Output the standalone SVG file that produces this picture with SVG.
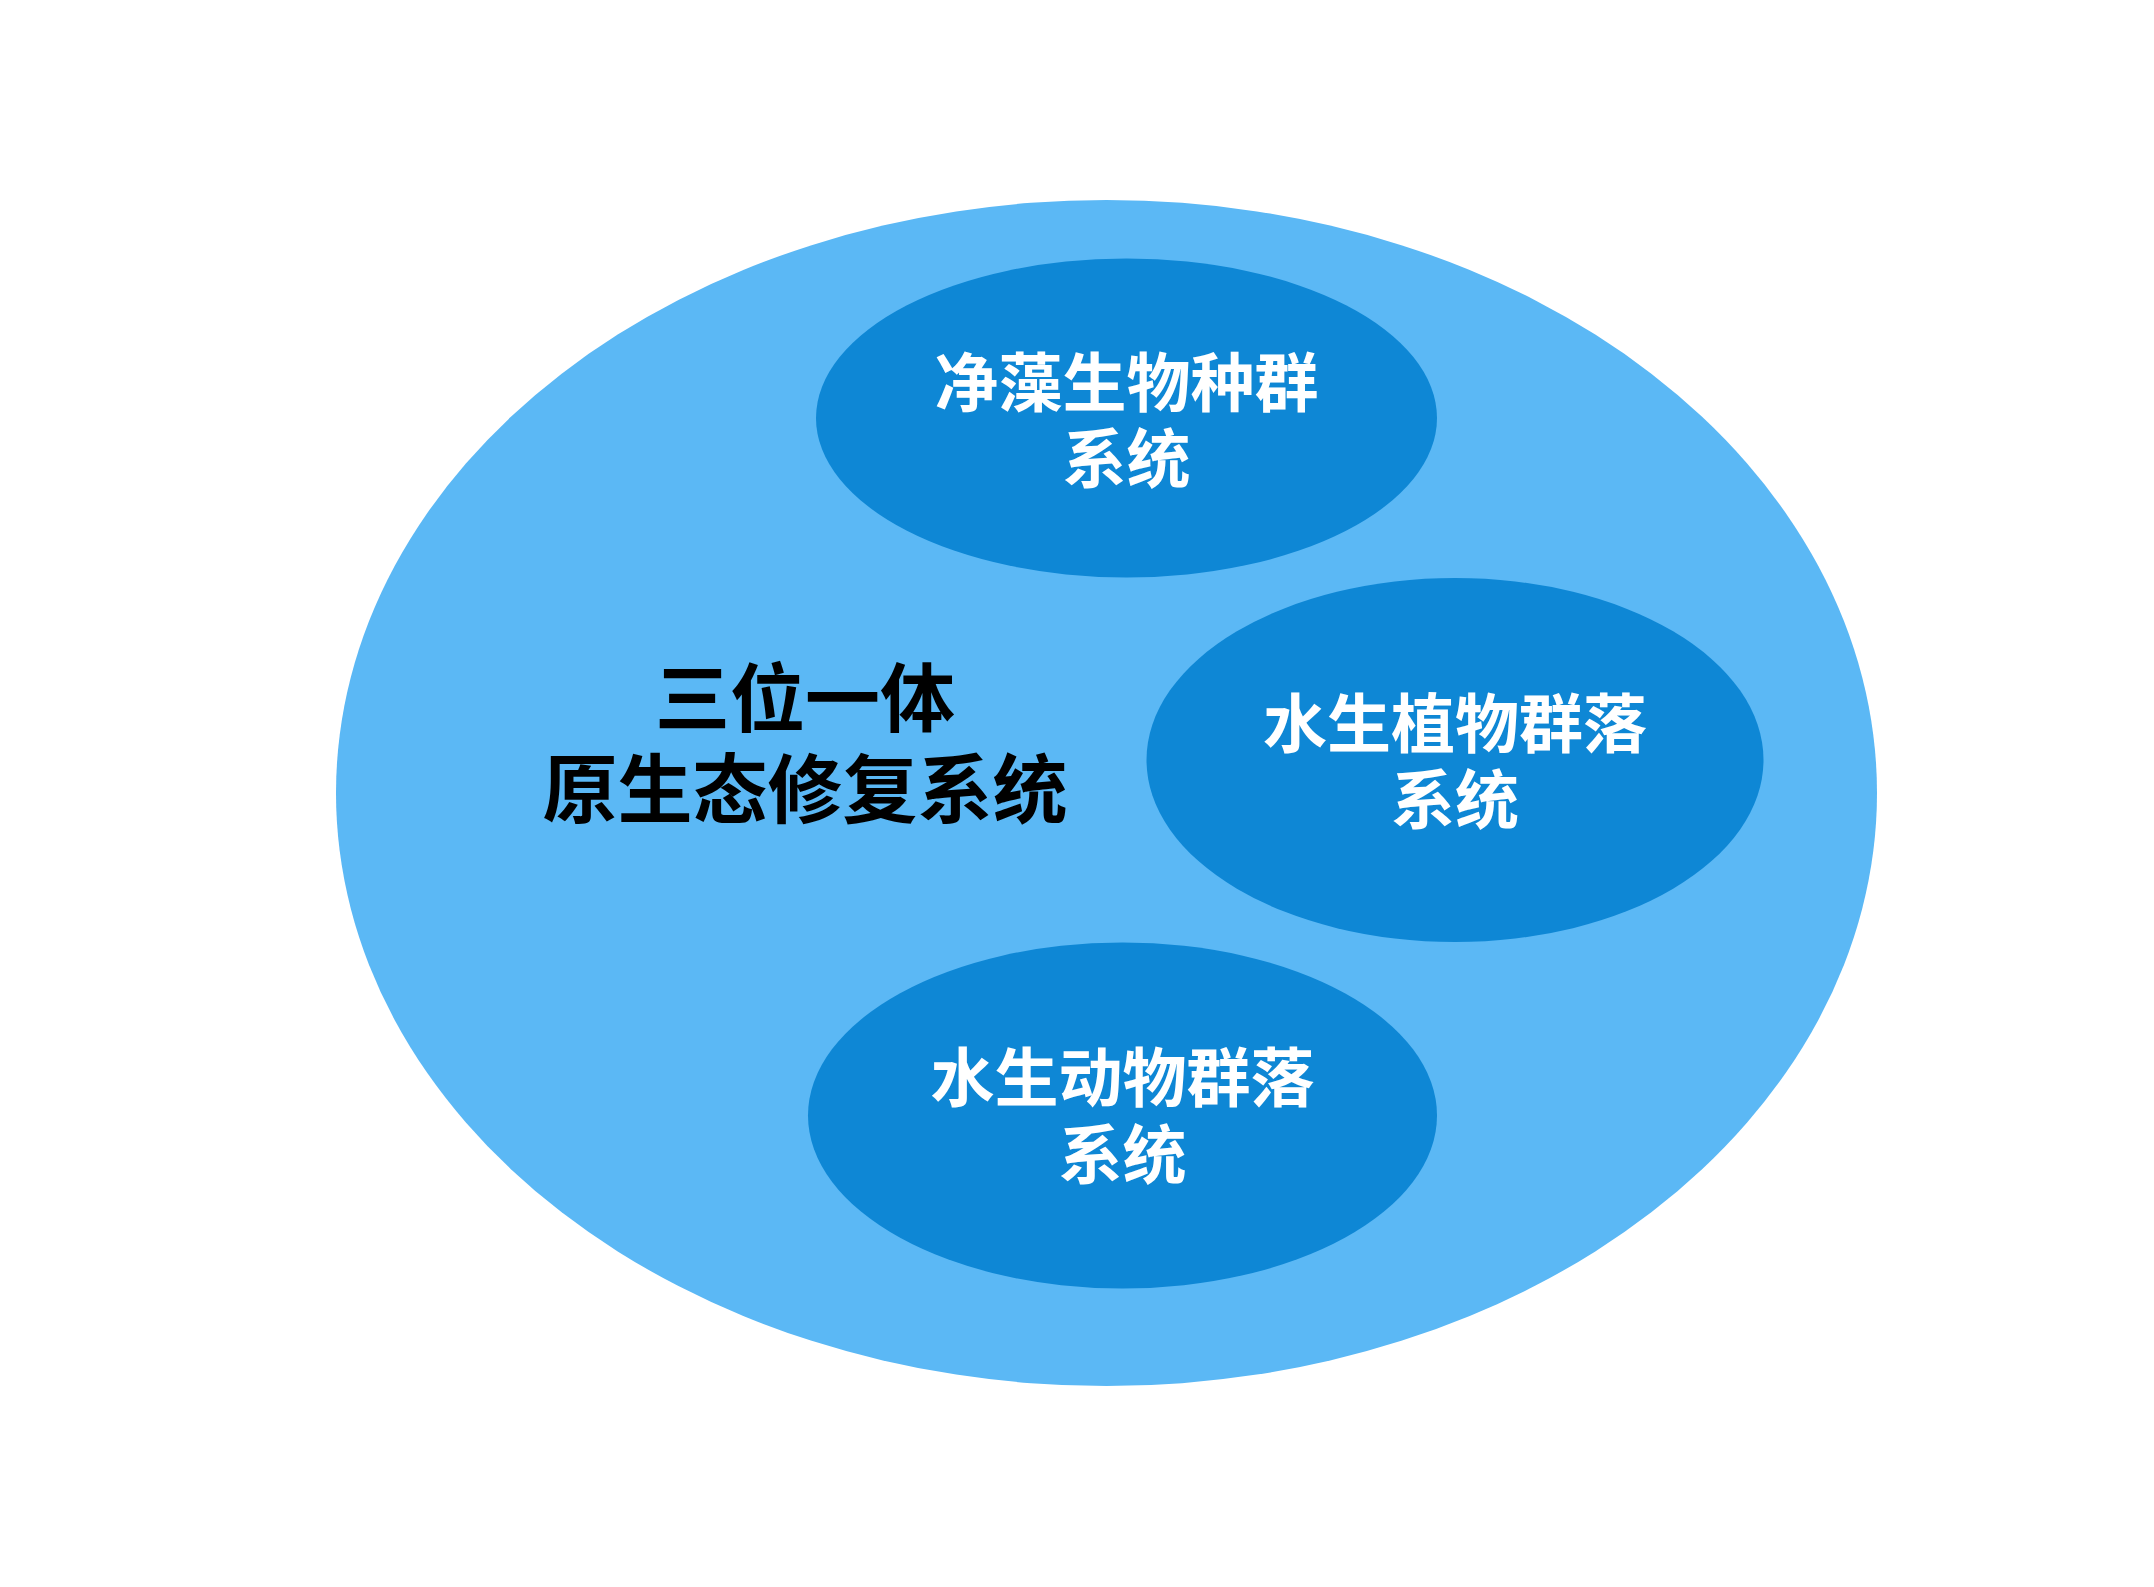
<svg xmlns="http://www.w3.org/2000/svg" width="2154" height="1587" viewBox="0 0 2154 1587">
<style>
.outer{fill:#5BB8F5}
.inner{fill:#0E87D5}
.t{font-family:"Noto Sans CJK SC","Noto Sans CJK TC",sans-serif;font-weight:700;text-anchor:middle}
.w{fill:#FFFFFF;font-size:64px}
.b{fill:#000000;font-size:75px}
</style>
<rect width="2154" height="1587" fill="#FFFFFF"/>
<g id="connectors"></g>
<g id="outer-system">
<ellipse class="outer" cx="1106.5" cy="793" rx="770.5" ry="593"/>
<text class="t b" x="805" y="726">三位一体</text>
<text class="t b" x="805" y="817">原生态修复系统</text>
</g>
<g id="algae-node">
<ellipse class="inner" cx="1126.5" cy="418" rx="310.5" ry="159.5"/>
<text class="t w" x="1126.5" y="406">净藻生物种群</text>
<text class="t w" x="1126.5" y="482">系统</text>
</g>
<g id="plant-node">
<ellipse class="inner" cx="1455" cy="760" rx="308.5" ry="182"/>
<text class="t w" x="1455" y="747">水生植物群落</text>
<text class="t w" x="1455" y="823">系统</text>
</g>
<g id="animal-node">
<ellipse class="inner" cx="1122.5" cy="1115.5" rx="314.5" ry="173"/>
<text class="t w" x="1122.5" y="1101">水生动物群落</text>
<text class="t w" x="1122.5" y="1178">系统</text>
</g>
</svg>
